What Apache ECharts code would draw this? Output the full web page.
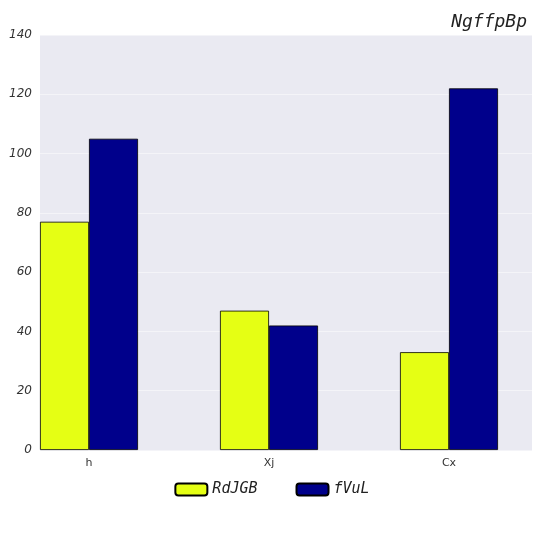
<!DOCTYPE html>
<html><head><meta charset="utf-8">
<script src="https://cdn.jsdelivr.net/npm/echarts@6/dist/echarts.min.js"></script>
<style>html,body{margin:0;padding:0;background:#fff}#c{width:544px;height:544px}</style>
</head><body><div id="c"></div>
<script>
const categories = ['h', 'Xj', 'Cx'];
const seriesNames = ['RdJGB', 'fVuL'];
const valuesA = [77, 47, 33];
const valuesB = [105, 42, 122];
const yTicks = [0, 20, 40, 60, 80, 100, 120, 140];

const chart = echarts.init(document.getElementById('c'));
chart.setOption({
  animation: false,
  title: { text: 'NgffpBp', right: 12, top: 8,
    textStyle: { fontFamily: 'DejaVu Sans Mono', fontStyle: 'italic', fontWeight: 'normal', fontSize: 18, color: '#222' } },
  legend: { bottom: 42, itemWidth: 32, itemHeight: 12, itemGap: 38,
    textStyle: { fontFamily: 'DejaVu Sans Mono', fontStyle: 'italic', fontSize: 15, color: '#222' },
    data: seriesNames },
  grid: { left: 40, right: 12, top: 35, bottom: 94 },
  xAxis: { type: 'value', min: -0.2722, max: 2.4611,
    splitLine: { show: false },
    axisLine: { show: false }, 
    axisTick: { show: false },
    axisLabel: { customValues: [0, 1, 2], formatter: v => categories[Math.round(v)] ?? '',
      color: '#333', fontSize: 11, fontFamily: 'DejaVu Sans' } },
  yAxis: { type: 'value', min: 0, max: 140, interval: 20,
    axisLine: { show: false }, axisTick: { show: false },
    splitLine: { lineStyle: { color: '#f4f4f8', width: 1 } },
    splitArea: { show: false },
    axisLabel: { color: '#333', fontStyle: 'italic', fontSize: 12, fontFamily: 'DejaVu Sans' } },
  graphic: [{ type: 'rect', z: -10, shape: { x: 40, y: 35, width: 492, height: 415 }, style: { fill: '#eaeaf2' } }],
  series: [
    { name: seriesNames[0], type: 'bar', barWidth: 49, barGap: '0%',
      data: valuesA.map((v, i) => [i, v]),
      itemStyle: { color: '#e5ff14', borderColor: '#000', borderWidth: 0.8 } },
    { name: seriesNames[1], type: 'bar', barWidth: 49, barGap: '0%',
      data: valuesB.map((v, i) => [i, v]),
      itemStyle: { color: '#00008b', borderColor: '#000', borderWidth: 0.8 } }
  ]
});
</script></body></html>
